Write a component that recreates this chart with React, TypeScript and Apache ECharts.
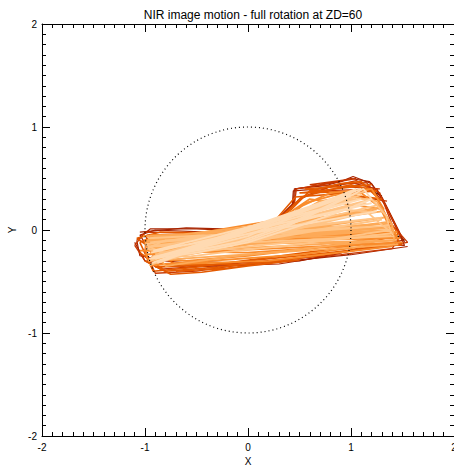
import React, { useEffect, useRef } from "react";
import * as echarts from "echarts";

const chartTitle = "NIR image motion - full rotation at ZD=60";
const xName = "X";
const yName = "Y";
const axisMin = -2;
const axisMax = 2;
const axisStep = 1;
const circleRadius = 1;

// each track is one image-motion path, [x, y]
const blackTracks: number[][][] = [
  [[1.30, -0.07], [1.46, -0.06], [1.52, -0.10]],
  [[-1.00, -0.25], [-0.96, -0.30], [-0.90, -0.32]],
  [[1.22, 0.37], [1.30, 0.33]],
];

const darkRedTracks: number[][][] = [
  [[-1.08, -0.10], [-0.95, 0.01], [-0.5, 0.01], [0.0, -0.01], [0.2, 0.02], [0.45, 0.26], [0.46, 0.40], [0.6, 0.42], [0.9, 0.47], [1.02, 0.52], [1.2, 0.45], [1.3, 0.30], [1.45, 0.0], [1.52, -0.15], [1.2, -0.14], [0.8, -0.25], [0.3, -0.33], [-0.3, -0.35], [-0.8, -0.30], [-1.05, -0.25], [-1.08, -0.10]],
  [[-1.05, -0.05], [-0.9, 0.0], [-0.4, -0.02], [0.1, -0.03], [0.3, 0.1], [0.43, 0.24], [0.44, 0.38], [0.7, 0.40], [1.0, 0.46], [1.25, 0.40], [1.38, 0.15], [1.5, -0.10], [1.0, -0.20], [0.5, -0.30], [-0.2, -0.32], [-0.9, -0.28], [-1.05, -0.05]],
  [[-1.05, -0.02], [-0.6, 0.02], [0.18, 0.0], [0.44, 0.26], [0.45, 0.40], [0.75, 0.43], [1.0, 0.50], [1.18, 0.47], [1.3, 0.32], [1.52, -0.12]],
  [[-1.1, -0.12], [-1.0, -0.30], [-0.6, -0.36], [0.0, -0.34], [0.6, -0.28], [1.0, -0.24], [1.55, -0.16]],
];

const redTracks: number[][][] = [
  [[-1.1, -0.15], [-1.0, -0.02], [-0.6, -0.03], [-0.1, -0.05], [0.25, 0.05], [0.5, 0.30], [0.8, 0.42], [1.05, 0.48], [1.28, 0.36], [1.4, 0.05], [1.55, -0.12], [1.3, -0.16], [0.9, -0.22], [0.4, -0.28], [-0.3, -0.34], [-0.85, -0.38], [-1.0, -0.30], [-1.1, -0.15]],
  [[-1.0, -0.20], [-0.98, -0.05], [-0.5, -0.04], [0.0, -0.06], [0.3, 0.12], [0.55, 0.33], [0.85, 0.44], [1.15, 0.46], [1.33, 0.25], [1.48, -0.05], [1.4, -0.18], [0.9, -0.24], [0.2, -0.30], [-0.5, -0.40], [-0.9, -0.42], [-1.0, -0.20]],
  [[0.45, 0.25], [0.47, 0.40], [1.05, 0.50], [0.6, 0.44], [1.28, 0.40], [0.7, 0.38], [1.35, 0.28]],
];

const orangeRedTracks: number[][][] = [
  [[-1.05, -0.12], [-0.9, -0.05], [-0.4, -0.06], [0.05, -0.04], [0.35, 0.15], [0.52, 0.32], [0.75, 0.38], [1.0, 0.44], [1.22, 0.38], [1.35, 0.12], [1.46, -0.04], [1.2, -0.12], [0.7, -0.20], [0.1, -0.28], [-0.5, -0.36], [-0.92, -0.40], [-1.05, -0.12]],
  [[-1.08, -0.08], [-0.85, -0.02], [-0.3, -0.03], [0.12, -0.02], [0.42, 0.20], [0.6, 0.38], [0.9, 0.45], [1.1, 0.47], [1.25, 0.32], [1.4, 0.0], [1.48, -0.14], [1.1, -0.18], [0.6, -0.26], [0.0, -0.33], [-0.7, -0.34], [-1.08, -0.08]],
  [[0.2, 0.02], [0.46, 0.32], [1.25, 0.38], [0.5, 0.36], [1.2, 0.44], [0.55, 0.40], [1.3, 0.30]],
  [[-1.05, -0.22], [-0.8, -0.40], [-0.3, -0.36], [0.3, -0.30], [1.0, -0.20], [1.5, -0.14], [0.8, -0.22], [-0.4, -0.34], [-0.9, -0.36]],
  [[-1.0, -0.30], [-0.75, -0.43], [-0.45, -0.41], [0.0, -0.35], [0.5, -0.29], [-0.2, -0.37], [-0.7, -0.40]],
];

const orangeTracks: number[][][] = [
  [[-1.0, -0.10], [-0.8, -0.07], [-0.3, -0.08], [0.1, -0.06], [0.35, 0.08], [0.55, 0.26], [0.85, 0.34], [1.1, 0.36], [1.28, 0.22], [1.38, 0.02], [1.45, -0.06], [1.1, -0.10], [0.6, -0.18], [0.0, -0.25], [-0.6, -0.30], [-0.98, -0.28], [-1.0, -0.10]],
  [[-1.02, -0.06], [1.48, -0.08], [-1.0, -0.12], [1.45, -0.02], [-0.98, -0.18], [1.40, 0.04], [-1.0, -0.24], [1.50, -0.12]],
  [[-1.05, -0.20], [0.0, -0.22], [1.45, -0.12], [0.5, -0.24], [-0.95, -0.34], [0.2, -0.30], [1.40, -0.16]],
  [[-0.95, -0.05], [0.15, -0.02], [0.45, 0.20], [0.8, 0.36], [1.2, 0.40], [1.32, 0.20], [0.6, 0.30], [0.3, 0.10], [-0.9, -0.10]],
];

const lightOrangeTracks: number[][][] = [
  [[-0.96, -0.14], [-0.7, -0.06], [-0.2, -0.08], [0.2, -0.03], [0.45, 0.14], [0.7, 0.28], [1.0, 0.33], [1.25, 0.28], [1.4, 0.05], [1.42, -0.10], [0.9, -0.14], [0.4, -0.20], [-0.2, -0.26], [-0.8, -0.35], [-0.96, -0.14]],
  [[-0.98, -0.10], [1.42, 0.0], [-0.96, -0.16], [1.44, -0.10], [-0.95, -0.22], [1.38, 0.08], [-0.97, -0.30], [1.46, -0.14]],
  [[-0.98, -0.06], [1.35, 0.06], [-0.96, -0.10], [1.40, 0.02], [-0.97, -0.14], [1.30, 0.18], [-0.95, -0.08], [1.38, -0.06], [-0.98, -0.18], [1.28, 0.22]],
  [[-1.0, -0.12], [1.25, 0.20], [-0.94, -0.16], [1.32, 0.12], [-0.96, -0.20], [1.40, -0.04]],
];

const peachTracks: number[][][] = [
  [[-0.95, -0.30], [1.15, 0.38], [-0.93, -0.26], [1.20, 0.30], [-0.96, -0.34], [1.10, 0.34], [-0.90, -0.28], [1.25, 0.24]],
  [[-0.94, -0.26], [1.05, 0.30], [-0.92, -0.32], [1.20, 0.18], [-0.95, -0.28], [1.30, 0.10], [-0.90, -0.24], [1.15, 0.26]],
  [[-0.98, -0.18], [-0.8, -0.10], [-0.4, -0.11], [0.0, -0.08], [0.4, 0.06], [0.7, 0.22], [1.0, 0.30], [1.2, 0.30], [1.34, 0.14], [1.38, 0.0], [1.0, -0.06], [0.5, -0.14], [-0.1, -0.20], [-0.6, -0.26], [-0.98, -0.18]],
  [[-1.0, -0.14], [-0.6, -0.08], [-0.1, -0.06], [0.3, 0.0], [0.6, 0.14], [0.9, 0.20], [1.15, 0.18], [1.3, 0.05], [1.4, -0.03], [1.0, -0.08], [0.4, -0.12], [-0.2, -0.18], [-0.8, -0.24], [-1.0, -0.14]],
  [[-0.97, -0.08], [1.36, 0.04], [-0.95, -0.12], [1.30, 0.12], [-0.96, -0.16], [1.42, -0.06]],
];

const lightPeachTracks: number[][][] = [
  [[-0.96, -0.28], [-0.7, -0.22], [-0.3, -0.16], [0.0, -0.10], [0.3, 0.0], [0.6, 0.14], [0.85, 0.26], [1.05, 0.36], [1.12, 0.40], [1.2, 0.30], [0.9, 0.18], [0.5, 0.04], [0.0, -0.12], [-0.5, -0.22], [-0.96, -0.28]],
  [[-0.93, -0.32], [1.10, 0.40], [-0.90, -0.28], [1.00, 0.34], [-0.88, -0.32], [1.05, 0.38]],
  [[-0.92, -0.26], [-0.5, -0.20], [-0.1, -0.12], [0.35, 0.04], [0.7, 0.20], [0.95, 0.32], [1.05, 0.40], [0.8, 0.30], [0.4, 0.12], [0.0, -0.06], [-0.5, -0.18], [-0.92, -0.26]],
  [[-0.94, -0.22], [1.20, 0.26], [-0.90, -0.26], [1.10, 0.30], [-0.92, -0.20], [1.25, 0.18]],
];

const trackGroups = [
  { tracks: blackTracks, color: "#000000", width: 1.3 },
  { tracks: darkRedTracks, color: "#a82400", width: 1.2 },
  { tracks: redTracks, color: "#c83800", width: 1.3 },
  { tracks: orangeRedTracks, color: "#e45a00", width: 1.6 },
  { tracks: orangeTracks, color: "#f98c2c", width: 1.8 },
  { tracks: lightOrangeTracks, color: "#fdaa58", width: 1.8 },
  { tracks: peachTracks, color: "#ffc486", width: 1.8 },
  { tracks: lightPeachTracks, color: "#ffdab2", width: 1.8 },
];

export default function App() {
  const ref = useRef<HTMLDivElement>(null);
  useEffect(() => {
    document.body.style.margin = "0";
    if (!ref.current) return;
    const chart = echarts.init(ref.current, undefined, { renderer: "svg" });
    const font = "Liberation Sans, Arial, sans-serif";
    const axisCommon = (show: boolean) => ({
      type: "value" as const,
      min: axisMin,
      max: axisMax,
      interval: axisStep,
      axisLine: { show: true, onZero: false, lineStyle: { color: "#000", width: 1 } },
      axisTick: { show: true, inside: true, length: 8, lineStyle: { color: "#000" } },
      minorTick: { show: true, splitNumber: 10, length: 4, lineStyle: { color: "#000" } },
      splitLine: { show: false },
      axisLabel: { show, color: "#000", fontSize: 10, fontFamily: font },
    });
    const series: any[] = [];
    trackGroups.forEach((g) => {
      g.tracks.forEach((t) => {
        series.push({
          type: "line",
          data: t,
          showSymbol: false,
          symbol: "none",
          silent: true,
          lineStyle: { color: g.color, width: g.width },
          xAxisIndex: 0,
          yAxisIndex: 0,
        });
      });
    });
    chart.setOption({
      animation: false,
      backgroundColor: "#ffffff",
      title: {
        text: chartTitle,
        left: 248,
        top: 4,
        textAlign: "center",
        textStyle: { fontSize: 12, fontWeight: "normal", color: "#000", fontFamily: font },
      },
      grid: { left: 42, top: 24, width: 412, height: 412, containLabel: false, outerBoundsMode: "none" },
      xAxis: [
        {
          ...axisCommon(true),
          position: "bottom",
          name: xName,
          nameLocation: "middle",
          nameGap: 19,
          nameTextStyle: { fontSize: 10, color: "#000", fontFamily: font },
          axisLabel: { show: true, color: "#000", fontSize: 10, fontFamily: font, margin: 6, showMaxLabel: true },
        },
        { ...axisCommon(false), position: "top" },
      ],
      yAxis: [
        {
          ...axisCommon(true),
          position: "left",
          name: yName,
          nameLocation: "middle",
          nameGap: 25,
          nameRotate: 90,
          nameTextStyle: { fontSize: 10, color: "#000", fontFamily: font },
          axisLabel: { show: true, color: "#000", fontSize: 10, fontFamily: font, margin: 5 },
        },
        { ...axisCommon(false), position: "right" },
      ],
      series,
    });
    const c = chart.convertToPixel({ xAxisIndex: 0, yAxisIndex: 0 }, [0, 0]) as number[];
    const e = chart.convertToPixel({ xAxisIndex: 0, yAxisIndex: 0 }, [circleRadius, 0]) as number[];
    const r = Math.abs(e[0] - c[0]);
    chart.setOption({
      graphic: [
        {
          type: "circle",
          shape: { cx: c[0], cy: c[1], r },
          style: { fill: "none", stroke: "#000", lineWidth: 1.2, lineDash: [1, 3] },
          z: 100,
          silent: true,
        },
      ],
    });
    return () => chart.dispose();
  }, []);
  return <div ref={ref} style={{ width: 454, height: 466 }} />;
}
